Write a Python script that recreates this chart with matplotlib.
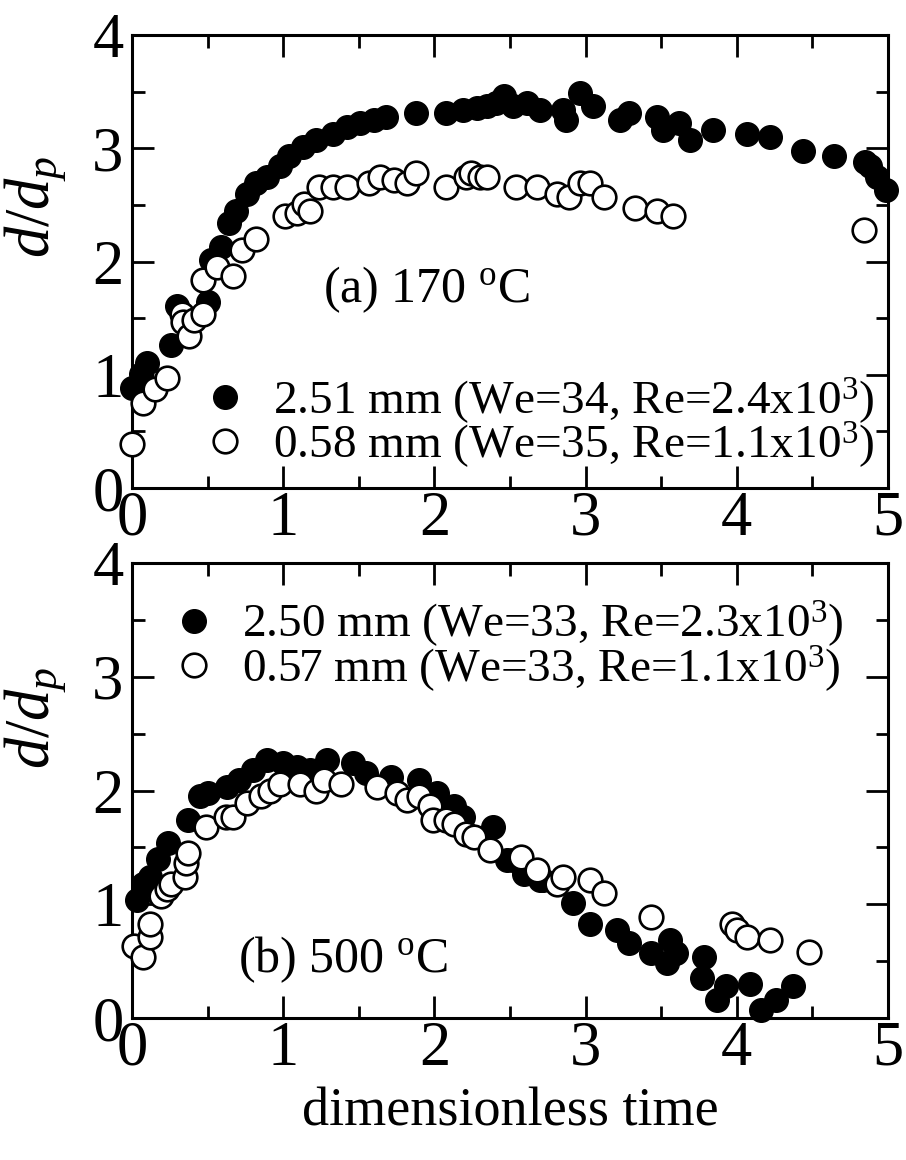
import numpy as np
import matplotlib
matplotlib.use("Agg")
import matplotlib.pyplot as plt
from matplotlib.ticker import MultipleLocator

# (a) 170 oC, d = 2.51 mm
a_big_t = [0.00, 0.06, 0.10, 0.26, 0.30, 0.50, 0.52, 0.59, 0.64, 0.69, 0.76, 0.82,
           0.89, 0.98, 1.04, 1.13, 1.22, 1.33, 1.42, 1.51, 1.60, 1.68, 1.88, 2.08,
           2.19, 2.28, 2.35, 2.41, 2.46, 2.52, 2.61, 2.70, 2.85, 2.87, 2.96, 3.05,
           3.23, 3.29, 3.47, 3.51, 3.62, 3.69, 3.84, 4.07, 4.22, 4.44, 4.64, 4.85,
           4.88, 4.93, 4.99]
a_big_d = [0.88, 1.01, 1.10, 1.26, 1.61, 1.64, 2.01, 2.13, 2.34, 2.45, 2.60, 2.69,
           2.75, 2.84, 2.93, 3.01, 3.07, 3.13, 3.19, 3.22, 3.25, 3.28, 3.31, 3.31,
           3.34, 3.36, 3.37, 3.40, 3.46, 3.37, 3.40, 3.34, 3.34, 3.25, 3.49, 3.37,
           3.25, 3.31, 3.28, 3.16, 3.22, 3.07, 3.16, 3.13, 3.10, 2.98, 2.93, 2.88,
           2.84, 2.75, 2.63]

# (a) 170 oC, d = 0.58 mm
a_small_t = [0.00, 0.07, 0.15, 0.23, 0.33, 0.34, 0.38, 0.41, 0.47, 0.47, 0.56, 0.67,
             0.73, 0.82, 1.01, 1.09, 1.14, 1.18, 1.24, 1.33, 1.42, 1.57, 1.64, 1.73,
             1.82, 1.88, 2.08, 2.21, 2.24, 2.30, 2.35, 2.54, 2.68, 2.81, 2.89, 2.96,
             3.03, 3.12, 3.33, 3.47, 3.58, 4.84]
a_small_d = [0.39, 0.75, 0.87, 0.97, 1.54, 1.47, 1.34, 1.48, 1.54, 1.84, 1.95, 1.87,
             2.10, 2.20, 2.40, 2.43, 2.51, 2.45, 2.66, 2.66, 2.66, 2.69, 2.75, 2.72,
             2.69, 2.78, 2.66, 2.75, 2.78, 2.75, 2.75, 2.66, 2.66, 2.60, 2.57, 2.69,
             2.69, 2.57, 2.47, 2.45, 2.40, 2.28]

# (b) 500 oC, d = 2.50 mm
b_big_t = [0.03, 0.07, 0.12, 0.17, 0.24, 0.37, 0.45, 0.50, 0.63, 0.71, 0.80, 0.89,
           1.00, 1.09, 1.18, 1.29, 1.46, 1.55, 1.71, 1.90, 2.02, 2.13, 2.19, 2.39,
           2.48, 2.52, 2.59, 2.70, 2.72, 2.92, 3.03, 3.21, 3.29, 3.43, 3.54, 3.56,
           3.60, 3.77, 3.78, 3.87, 3.93, 4.09, 4.16, 4.26, 4.37]
b_big_d = [1.04, 1.18, 1.24, 1.40, 1.54, 1.74, 1.95, 1.98, 2.03, 2.09, 2.18, 2.27,
           2.24, 2.21, 2.18, 2.27, 2.24, 2.15, 2.12, 2.09, 1.98, 1.86, 1.77, 1.68,
           1.39, 1.39, 1.27, 1.21, 1.21, 1.01, 0.83, 0.77, 0.66, 0.57, 0.48, 0.69,
           0.57, 0.35, 0.54, 0.16, 0.28, 0.30, 0.07, 0.16, 0.28]

# (b) 500 oC, d = 0.57 mm
b_small_t = [0.01, 0.07, 0.12, 0.12, 0.19, 0.23, 0.26, 0.35, 0.36, 0.37, 0.49, 0.62,
             0.67, 0.76, 0.85, 0.91, 0.98, 1.11, 1.22, 1.27, 1.38, 1.62, 1.75, 1.82,
             1.90, 1.97, 1.99, 2.08, 2.13, 2.21, 2.26, 2.37, 2.57, 2.68, 2.81, 2.85,
             3.03, 3.12, 3.43, 3.97, 4.00, 4.07, 4.22, 4.48]
b_small_d = [0.63, 0.54, 0.71, 0.83, 1.07, 1.13, 1.18, 1.24, 1.36, 1.45, 1.68, 1.77,
             1.77, 1.89, 1.95, 2.00, 2.06, 2.06, 2.00, 2.09, 2.06, 2.03, 1.98, 1.92,
             1.95, 1.86, 1.74, 1.74, 1.71, 1.62, 1.59, 1.48, 1.42, 1.30, 1.18, 1.24,
             1.21, 1.10, 0.89, 0.83, 0.77, 0.71, 0.69, 0.58]

a_labels = ["2.51 mm (We=34, Re=2.4x10$^3$)", "0.58 mm (We=35, Re=1.1x10$^3$)"]
b_labels = ["2.50 mm (We=33, Re=2.3x10$^3$)", "0.57 mm (We=33, Re=1.1x10$^3$)"]

plt.rcParams.update({
    "font.family": "Liberation Serif",
    "mathtext.fontset": "custom",
    "mathtext.rm": "Liberation Serif",
    "mathtext.it": "Liberation Serif:italic",
    "axes.linewidth": 2.2,
    "xtick.direction": "in",
    "ytick.direction": "in",
    "xtick.top": True,
    "ytick.right": True,
    "xtick.major.size": 16,
    "ytick.major.size": 16,
    "xtick.minor.size": 9,
    "ytick.minor.size": 9,
    "xtick.major.width": 2.0,
    "ytick.major.width": 2.0,
    "xtick.minor.width": 2.0,
    "ytick.minor.width": 2.0,
    "xtick.labelsize": 45,
    "ytick.labelsize": 45,
    "xtick.major.pad": 2,
    "ytick.major.pad": 6,
})

MS = 17
fig = plt.figure(figsize=(9.06, 11.6), dpi=100)
ax_a = fig.add_axes([0.1457, 0.5793, 0.8344, 0.3905])
ax_b = fig.add_axes([0.1457, 0.1224, 0.8344, 0.3922])


def draw_panel(ax, t_big, d_big, t_small, d_small, labels, legend_anchor, ylab_y):
    ax.plot(t_big, d_big, "o", ls="none", ms=MS, mfc="black", mec="black",
            mew=1.0, label=labels[0], clip_on=False, zorder=3)
    ax.plot(t_small, d_small, "o", ls="none", ms=MS, mfc="white", mec="black",
            mew=1.9, label=labels[1], clip_on=False, zorder=3)
    ax.set_xlim(0, 5)
    ax.set_ylim(0, 4)
    ax.xaxis.set_major_locator(MultipleLocator(1))
    ax.xaxis.set_minor_locator(MultipleLocator(0.5))
    ax.yaxis.set_major_locator(MultipleLocator(1))
    ax.yaxis.set_minor_locator(MultipleLocator(0.5))
    ax.tick_params(which="both", top=True, right=True)
    ax.set_ylabel("$d/d_p$", fontsize=45)
    ax.yaxis.set_label_coords(-0.085, ylab_y)
    ax.legend(loc="upper left", bbox_to_anchor=legend_anchor, frameon=False,
              fontsize=34, handlelength=1.0, handletextpad=0.52,
              labelspacing=-0.14, borderpad=0, borderaxespad=0, markerscale=1.0)


draw_panel(ax_a, a_big_t, a_big_d, a_small_t, a_small_d, a_labels,
           (0.092, 0.25), 0.62)
draw_panel(ax_b, b_big_t, b_big_d, b_small_t, b_small_d, b_labels,
           (0.051, 0.922), 0.66)

ax_a.text(1.26, 1.75, "(a) 170 $^{\\rm o}$C", fontsize=36, va="center", ha="left")
ax_b.text(0.70, 0.51, "(b) 500 $^{\\rm o}$C", fontsize=36, va="center", ha="left")

ax_b.set_xlabel("dimensionless time", fontsize=39, labelpad=6)

fig.savefig("out.png", dpi=100)
plt.close(fig)
